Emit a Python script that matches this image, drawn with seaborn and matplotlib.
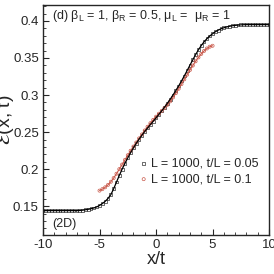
import numpy as np
import pandas as pd
import seaborn as sns
import matplotlib.pyplot as plt
from matplotlib.ticker import MultipleLocator

# x/t grid for L=1000, t/L=0.05 (step 0.25 from -10 to 10)
x_005 = [-10, -9.75, -9.5, -9.25, -9, -8.75, -8.5, -8.25, -8, -7.75, -7.5, -7.25, -7,
         -6.75, -6.5, -6.25, -6, -5.75, -5.5, -5.25, -5, -4.75, -4.5, -4.25, -4,
         -3.75, -3.5, -3.25, -3, -2.75, -2.5, -2.25, -2, -1.75, -1.5, -1.25, -1,
         -0.75, -0.5, -0.25, 0, 0.25, 0.5, 0.75, 1, 1.25, 1.5, 1.75, 2, 2.25, 2.5,
         2.75, 3, 3.25, 3.5, 3.75, 4, 4.25, 4.5, 4.75, 5, 5.25, 5.5, 5.75, 6, 6.25,
         6.5, 6.75, 7, 7.25, 7.5, 7.75, 8, 8.25, 8.5, 8.75, 9, 9.25, 9.5, 9.75, 10]
e_005 = [0.144, 0.144, 0.144, 0.144, 0.144, 0.144, 0.144, 0.144, 0.144, 0.144, 0.144, 0.144, 0.144,
         0.1442, 0.1446, 0.1452, 0.1458, 0.1466, 0.1476, 0.149, 0.151, 0.1535, 0.1565, 0.1605, 0.1655,
         0.1735, 0.1825, 0.1915, 0.2, 0.2078, 0.2152, 0.2222, 0.2287, 0.2348, 0.2405, 0.2458, 0.2508,
         0.2555, 0.2601, 0.2646, 0.2692, 0.2738, 0.2786, 0.2836, 0.2888, 0.2942, 0.3, 0.306, 0.3122,
         0.3188, 0.3258, 0.333, 0.3403, 0.3475, 0.3545, 0.361, 0.3668, 0.3718, 0.376, 0.3796, 0.3827,
         0.3854, 0.3876, 0.3894, 0.3908, 0.3919, 0.3928, 0.3935, 0.394, 0.3944, 0.3947, 0.3949,
         0.395, 0.395, 0.395, 0.395, 0.395, 0.395, 0.395, 0.395, 0.395]

# L=1000, t/L=0.1 (only -5..5)
x_01 = [-5, -4.75, -4.5, -4.25, -4, -3.75, -3.5, -3.25, -3, -2.75, -2.5, -2.25, -2,
        -1.75, -1.5, -1.25, -1, -0.75, -0.5, -0.25, 0, 0.25, 0.5, 0.75, 1, 1.25, 1.5,
        1.75, 2, 2.25, 2.5, 2.75, 3, 3.25, 3.5, 3.75, 4, 4.25, 4.5, 4.75, 5]
e_01 = [0.171, 0.173, 0.1755, 0.1788, 0.183, 0.188, 0.1938, 0.2, 0.2062, 0.2125, 0.2188,
        0.2248, 0.2305, 0.236, 0.2415, 0.2468, 0.2522, 0.2572, 0.262, 0.2665, 0.2708,
        0.2748, 0.2786, 0.2825, 0.2868, 0.2915, 0.2968, 0.3025, 0.3085, 0.3148, 0.3212,
        0.3275, 0.3338, 0.3398, 0.3455, 0.3508, 0.3555, 0.3595, 0.3628, 0.3652, 0.3665]

df1 = pd.DataFrame({'x': x_005, 'e': e_005})
df2 = pd.DataFrame({'x': x_01, 'e': e_01})

sns.set_style('ticks')
plt.rcParams['font.family'] = ['Liberation Sans', 'DejaVu Sans']
plt.rcParams['mathtext.fontset'] = 'dejavusans'
plt.rcParams['axes.unicode_minus'] = False

fig = plt.figure(figsize=(2.74, 2.74), dpi=100)
ax = fig.add_axes([0.157, 0.142, 0.825, 0.84])

red = '#c9584a'
sns.lineplot(data=df2, x='x', y='e', color=red, lw=0.8, ax=ax, legend=False)
sns.scatterplot(data=df1, x='x', y='e', marker='s', s=4, facecolor='none',
                edgecolor='#333333', linewidth=0.5, ax=ax, label='L = 1000, t/L = 0.05')
sns.scatterplot(data=df2, x='x', y='e', marker='o', s=5, facecolor='none',
                edgecolor=red, linewidth=0.5, ax=ax, label='L = 1000, t/L = 0.1')
sns.lineplot(data=df1, x='x', y='e', color='black', lw=0.9, ax=ax, legend=False)

ax.set_xlim(-10, 10)
ax.set_ylim(0.111, 0.4216)
ax.set_yticks([0.15, 0.2, 0.25, 0.3, 0.35, 0.4])
ax.set_yticklabels(['0.15', '0.2', '0.25', '0.3', '0.35', '0.4'])
ax.set_xticks([-10, -5, 0, 5, 10])
ax.xaxis.set_minor_locator(MultipleLocator(1))
ax.yaxis.set_minor_locator(MultipleLocator(0.01))
ax.tick_params(which='major', direction='in', length=4, width=0.8, labelsize=9.5, pad=3)
ax.tick_params(which='minor', direction='in', length=2, width=0.6)
for s in ax.spines.values():
    s.set_linewidth(1.0)

ax.set_xlabel('x/t', fontsize=13, labelpad=0)
ax.set_ylabel(r'$\mathcal{E}$(x, t)', fontsize=14, labelpad=-2, math_fontfamily='stix')

ax.text(0.04, 0.985, r'(d) $\mathregular{\beta_L}$ = 1, $\mathregular{\beta_R}$ = 0.5, $\mathregular{\mu_L}$ =  $\mathregular{\mu_R}$ = 1',
        transform=ax.transAxes, fontsize=9, va='top', ha='left')
ax.text(0.04, 0.02, '(2D)', transform=ax.transAxes, fontsize=9, va='bottom', ha='left')

ax.legend(loc='center left', bbox_to_anchor=(0.39, 0.276), frameon=False, fontsize=9,
          handletextpad=0.1, markerscale=1.0, labelspacing=0.3, borderpad=0, handlelength=1.0)

fig.savefig('out.png', dpi=100)
